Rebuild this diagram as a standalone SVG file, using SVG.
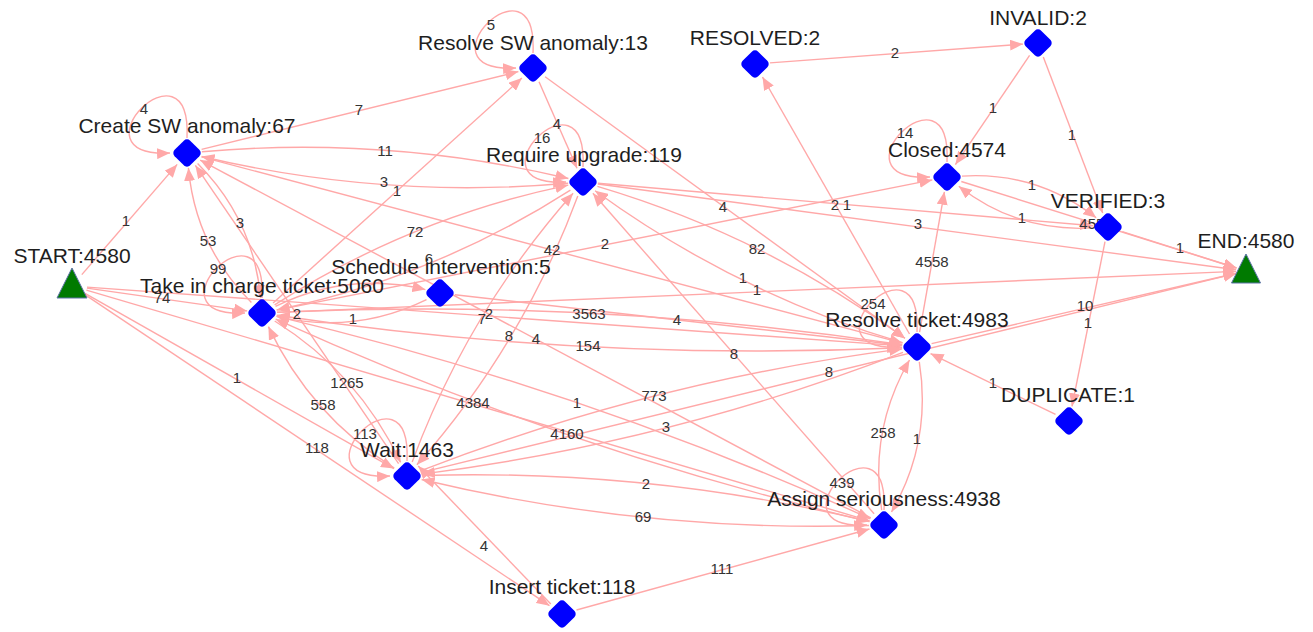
<svg xmlns="http://www.w3.org/2000/svg" width="1313" height="632" viewBox="0 0 1313 632">
<style>
.e{fill:none;stroke:#ffa8a8;stroke-width:1.4;marker-end:url(#arr)}
.el{font-family:"Liberation Sans",Arial,sans-serif;font-size:15px;fill:#333;text-anchor:middle}
.nl{font-family:"Liberation Sans",Arial,sans-serif;font-size:21px;fill:#1e1e1e;text-anchor:middle}
.dia{fill:#0000ff}
.tri{fill:#007a00;stroke:#5d72a8;stroke-width:1}
</style>
<defs>
<marker id="arr" markerWidth="13" markerHeight="11" refX="13" refY="5.5" orient="auto" markerUnits="userSpaceOnUse"><path d="M0,0 L13,5.5 L0,11 z" fill="#ffa8a8"/></marker>
<rect id="dia" x="-11" y="-11" width="22" height="22" rx="4.5" transform="rotate(45)"/>
</defs>
<rect width="1313" height="632" fill="#ffffff"/>
<g id="connectors">
<path class="e" d="M81.8,274.6 L177.2,164.4"/>
<path class="e" d="M86.9,288.1 L247.1,310.9"/>
<path class="e" d="M85,293.4 L394,468.6"/>
<path class="e" d="M84.5,294.3 L549.5,605.7"/>
<path class="e" d="M86.4,290.2 L869.6,520.8"/>
<path class="e" d="M87,287.1 L902,345.9"/>
<path class="e" d="M187,138 C192,33 67,158 170,153"/>
<path class="e" d="M533,53 C538,-52 413,73 516,68"/>
<path class="e" d="M583,167 C588,62 463,187 566,182"/>
<path class="e" d="M947,162 C952,57 827,182 930,177"/>
<path class="e" d="M917,332 C922,227 797,352 900,347"/>
<path class="e" d="M262,298 C267,193 142,318 245,313"/>
<path class="e" d="M407,461 C412,356 287,481 390,476"/>
<path class="e" d="M884,510 C889,405 764,530 867,525"/>
<path class="e" d="M201.6,149.4 L518.4,71.6"/>
<path class="e" d="M201.9,151.7 Q387.3,135.6 568.4,178.5"/>
<path class="e" d="M568.1,183.3 Q382.7,199.4 201.6,156.5"/>
<path class="e" d="M197.6,163.6 Q253.5,219.4 260.6,298.1"/>
<path class="e" d="M251.4,302.4 Q195.5,246.6 188.4,167.9"/>
<path class="e" d="M201.5,156.9 L902.5,343.1"/>
<path class="e" d="M870.8,517.9 L200.2,160.1"/>
<path class="e" d="M398.6,463.6 L195.4,165.4"/>
<path class="e" d="M539,81.7 L577,168.3"/>
<path class="e" d="M545.1,76.8 L904.9,338.2"/>
<path class="e" d="M273.1,302.9 L521.9,78.1"/>
<path class="e" d="M274.6,304.9 Q410.4,217.9 568.3,185.1"/>
<path class="e" d="M570.4,190.1 Q434.6,277.1 276.7,309.9"/>
<path class="e" d="M597.4,186.3 Q764.2,235.8 904.9,338.2"/>
<path class="e" d="M902.6,342.7 Q735.8,293.2 595.1,190.8"/>
<path class="e" d="M412.2,461.9 Q467.5,312.6 573.1,193.2"/>
<path class="e" d="M577.8,196.1 Q522.5,345.4 416.9,464.8"/>
<path class="e" d="M874.1,513.7 L592.9,193.3"/>
<path class="e" d="M597.9,184 L1236.1,269.7"/>
<path class="e" d="M597.9,183.3 L1093.1,225.7"/>
<path class="e" d="M770,62.9 L1023,44.1"/>
<path class="e" d="M909.5,334 L762.5,77"/>
<path class="e" d="M1029.6,55.4 L955.4,164.6"/>
<path class="e" d="M1043.3,57 L1102.7,213"/>
<path class="e" d="M962,176.1 Q1037,171.4 1096.2,217.8"/>
<path class="e" d="M1093,227.9 Q1018,232.6 958.8,186.2"/>
<path class="e" d="M961.3,181.5 L1236.5,268"/>
<path class="e" d="M1122.3,231.6 L1236.5,268"/>
<path class="e" d="M1105,241.7 L1072,406.3"/>
<path class="e" d="M1055.5,414.4 L930.5,353.6"/>
<path class="e" d="M919.6,332.2 L944.4,191.8"/>
<path class="e" d="M931.6,343.6 L1236.3,273.3"/>
<path class="e" d="M275.5,306.4 Q347.4,271.2 425.4,289.6"/>
<path class="e" d="M426.5,299.6 Q354.6,334.8 276.6,316.4"/>
<path class="e" d="M454.9,294.7 L902.1,345.3"/>
<path class="e" d="M277,312.3 Q591.2,298 902.2,344.8"/>
<path class="e" d="M902,347.7 Q587.8,362 276.8,315.2"/>
<path class="e" d="M274.7,321 Q358.4,373.2 400.6,462.4"/>
<path class="e" d="M394.3,468 Q310.6,415.8 268.4,326.6"/>
<path class="e" d="M276.6,316.4 Q583.3,388.7 870.3,518.8"/>
<path class="e" d="M869.4,521.6 Q562.7,449.3 275.7,319.2"/>
<path class="e" d="M276.7,310.1 L932.3,179.9"/>
<path class="e" d="M277,312.4 L1236,271.4"/>
<path class="e" d="M421,470.6 Q654.2,380.5 902.1,348.9"/>
<path class="e" d="M903,352.4 Q669.8,442.5 421.9,474.1"/>
<path class="e" d="M421.6,472.4 L1236.3,273.4"/>
<path class="e" d="M422,475.5 Q648.8,468.7 869.4,521.5"/>
<path class="e" d="M869,525.5 Q642.2,532.3 421.6,479.5"/>
<path class="e" d="M550.8,604 L418.2,466"/>
<path class="e" d="M576.5,610 L869.5,529"/>
<path class="e" d="M881.7,510.2 Q869,430.2 909.5,360"/>
<path class="e" d="M919.3,361.8 Q932,441.8 891.5,512"/>
</g>
<g id="connector-labels">
<text class="el" x="126" y="226">1</text>
<text class="el" x="162" y="303">74</text>
<text class="el" x="237" y="383">1</text>
<text class="el" x="317" y="453">118</text>
<text class="el" x="473" y="408">4384</text>
<text class="el" x="489" y="319">2</text>
<text class="el" x="144" y="114">4</text>
<text class="el" x="491" y="30">5</text>
<text class="el" x="542" y="143">16</text>
<text class="el" x="905" y="138">14</text>
<text class="el" x="873" y="309">254</text>
<text class="el" x="218" y="274">99</text>
<text class="el" x="365" y="439">113</text>
<text class="el" x="842" y="488">439</text>
<text class="el" x="359" y="115">7</text>
<text class="el" x="385" y="156">11</text>
<text class="el" x="384" y="187">3</text>
<text class="el" x="240" y="228">3</text>
<text class="el" x="208" y="246">53</text>
<text class="el" x="552" y="255">42</text>
<text class="el" x="536" y="344">4</text>
<text class="el" x="297" y="319">2</text>
<text class="el" x="557" y="129">4</text>
<text class="el" x="723" y="212">4</text>
<text class="el" x="397" y="196">1</text>
<text class="el" x="415" y="237">72</text>
<text class="el" x="429" y="264">6</text>
<text class="el" x="757" y="254">82</text>
<text class="el" x="743" y="283">1</text>
<text class="el" x="482" y="324">7</text>
<text class="el" x="509" y="341">8</text>
<text class="el" x="734" y="359">8</text>
<text class="el" x="918" y="229">3</text>
<text class="el" x="847" y="210">1</text>
<text class="el" x="895" y="58">2</text>
<text class="el" x="835" y="210">2</text>
<text class="el" x="993" y="113">1</text>
<text class="el" x="1072" y="140">1</text>
<text class="el" x="1032" y="190">1</text>
<text class="el" x="1022" y="223">1</text>
<text class="el" x="1096" y="229">4557</text>
<text class="el" x="1180" y="253">1</text>
<text class="el" x="1088" y="328">1</text>
<text class="el" x="993" y="388">1</text>
<text class="el" x="932" y="267">4558</text>
<text class="el" x="1085" y="311">10</text>
<text class="el" x="353" y="324">1</text>
<text class="el" x="677" y="325">4</text>
<text class="el" x="589" y="319">3563</text>
<text class="el" x="588" y="351">154</text>
<text class="el" x="347" y="388">1265</text>
<text class="el" x="323" y="410">558</text>
<text class="el" x="577" y="408">1</text>
<text class="el" x="567" y="439">4160</text>
<text class="el" x="605" y="249">2</text>
<text class="el" x="757" y="295">1</text>
<text class="el" x="654" y="401">773</text>
<text class="el" x="666" y="432">3</text>
<text class="el" x="829" y="377">8</text>
<text class="el" x="646" y="489">2</text>
<text class="el" x="643" y="522">69</text>
<text class="el" x="484" y="551">4</text>
<text class="el" x="722" y="574">111</text>
<text class="el" x="883" y="438">258</text>
<text class="el" x="917" y="444">1</text>
</g>
<g id="node-start"><path class="tri" d="M72,268 L87,298 L57,298 Z"/><text class="nl" x="72" y="263">START:4580</text></g>
<g id="node-end"><path class="tri" d="M1246,254 L1260.5,283 L1231.5,283 Z"/><text class="nl" x="1246" y="248">END:4580</text></g>
<g id="node-create-sw-anomaly"><use href="#dia" class="dia" x="187" y="153"/><text class="nl" x="187" y="133">Create SW anomaly:67</text></g>
<g id="node-resolve-sw-anomaly"><use href="#dia" class="dia" x="533" y="68"/><text class="nl" x="533" y="50">Resolve SW anomaly:13</text></g>
<g id="node-require-upgrade"><use href="#dia" class="dia" x="583" y="182"/><text class="nl" x="584" y="162">Require upgrade:119</text></g>
<g id="node-resolved"><use href="#dia" class="dia" x="755" y="64"/><text class="nl" x="755" y="45">RESOLVED:2</text></g>
<g id="node-invalid"><use href="#dia" class="dia" x="1038" y="43"/><text class="nl" x="1038" y="25">INVALID:2</text></g>
<g id="node-closed"><use href="#dia" class="dia" x="947" y="177"/><text class="nl" x="947" y="157">Closed:4574</text></g>
<g id="node-verified"><use href="#dia" class="dia" x="1108" y="227"/><text class="nl" x="1108" y="208">VERIFIED:3</text></g>
<g id="node-take-in-charge-ticket"><use href="#dia" class="dia" x="262" y="313"/><text class="nl" x="262" y="293">Take in charge ticket:5060</text></g>
<g id="node-schedule-intervention"><use href="#dia" class="dia" x="440" y="293"/><text class="nl" x="441" y="274">Schedule intervention:5</text></g>
<g id="node-resolve-ticket"><use href="#dia" class="dia" x="917" y="347"/><text class="nl" x="917" y="327">Resolve ticket:4983</text></g>
<g id="node-duplicate"><use href="#dia" class="dia" x="1069" y="421"/><text class="nl" x="1068" y="402">DUPLICATE:1</text></g>
<g id="node-wait"><use href="#dia" class="dia" x="407" y="476"/><text class="nl" x="407" y="457">Wait:1463</text></g>
<g id="node-assign-seriousness"><use href="#dia" class="dia" x="884" y="525"/><text class="nl" x="884" y="506">Assign seriousness:4938</text></g>
<g id="node-insert-ticket"><use href="#dia" class="dia" x="562" y="614"/><text class="nl" x="562" y="594">Insert ticket:118</text></g>
</svg>
